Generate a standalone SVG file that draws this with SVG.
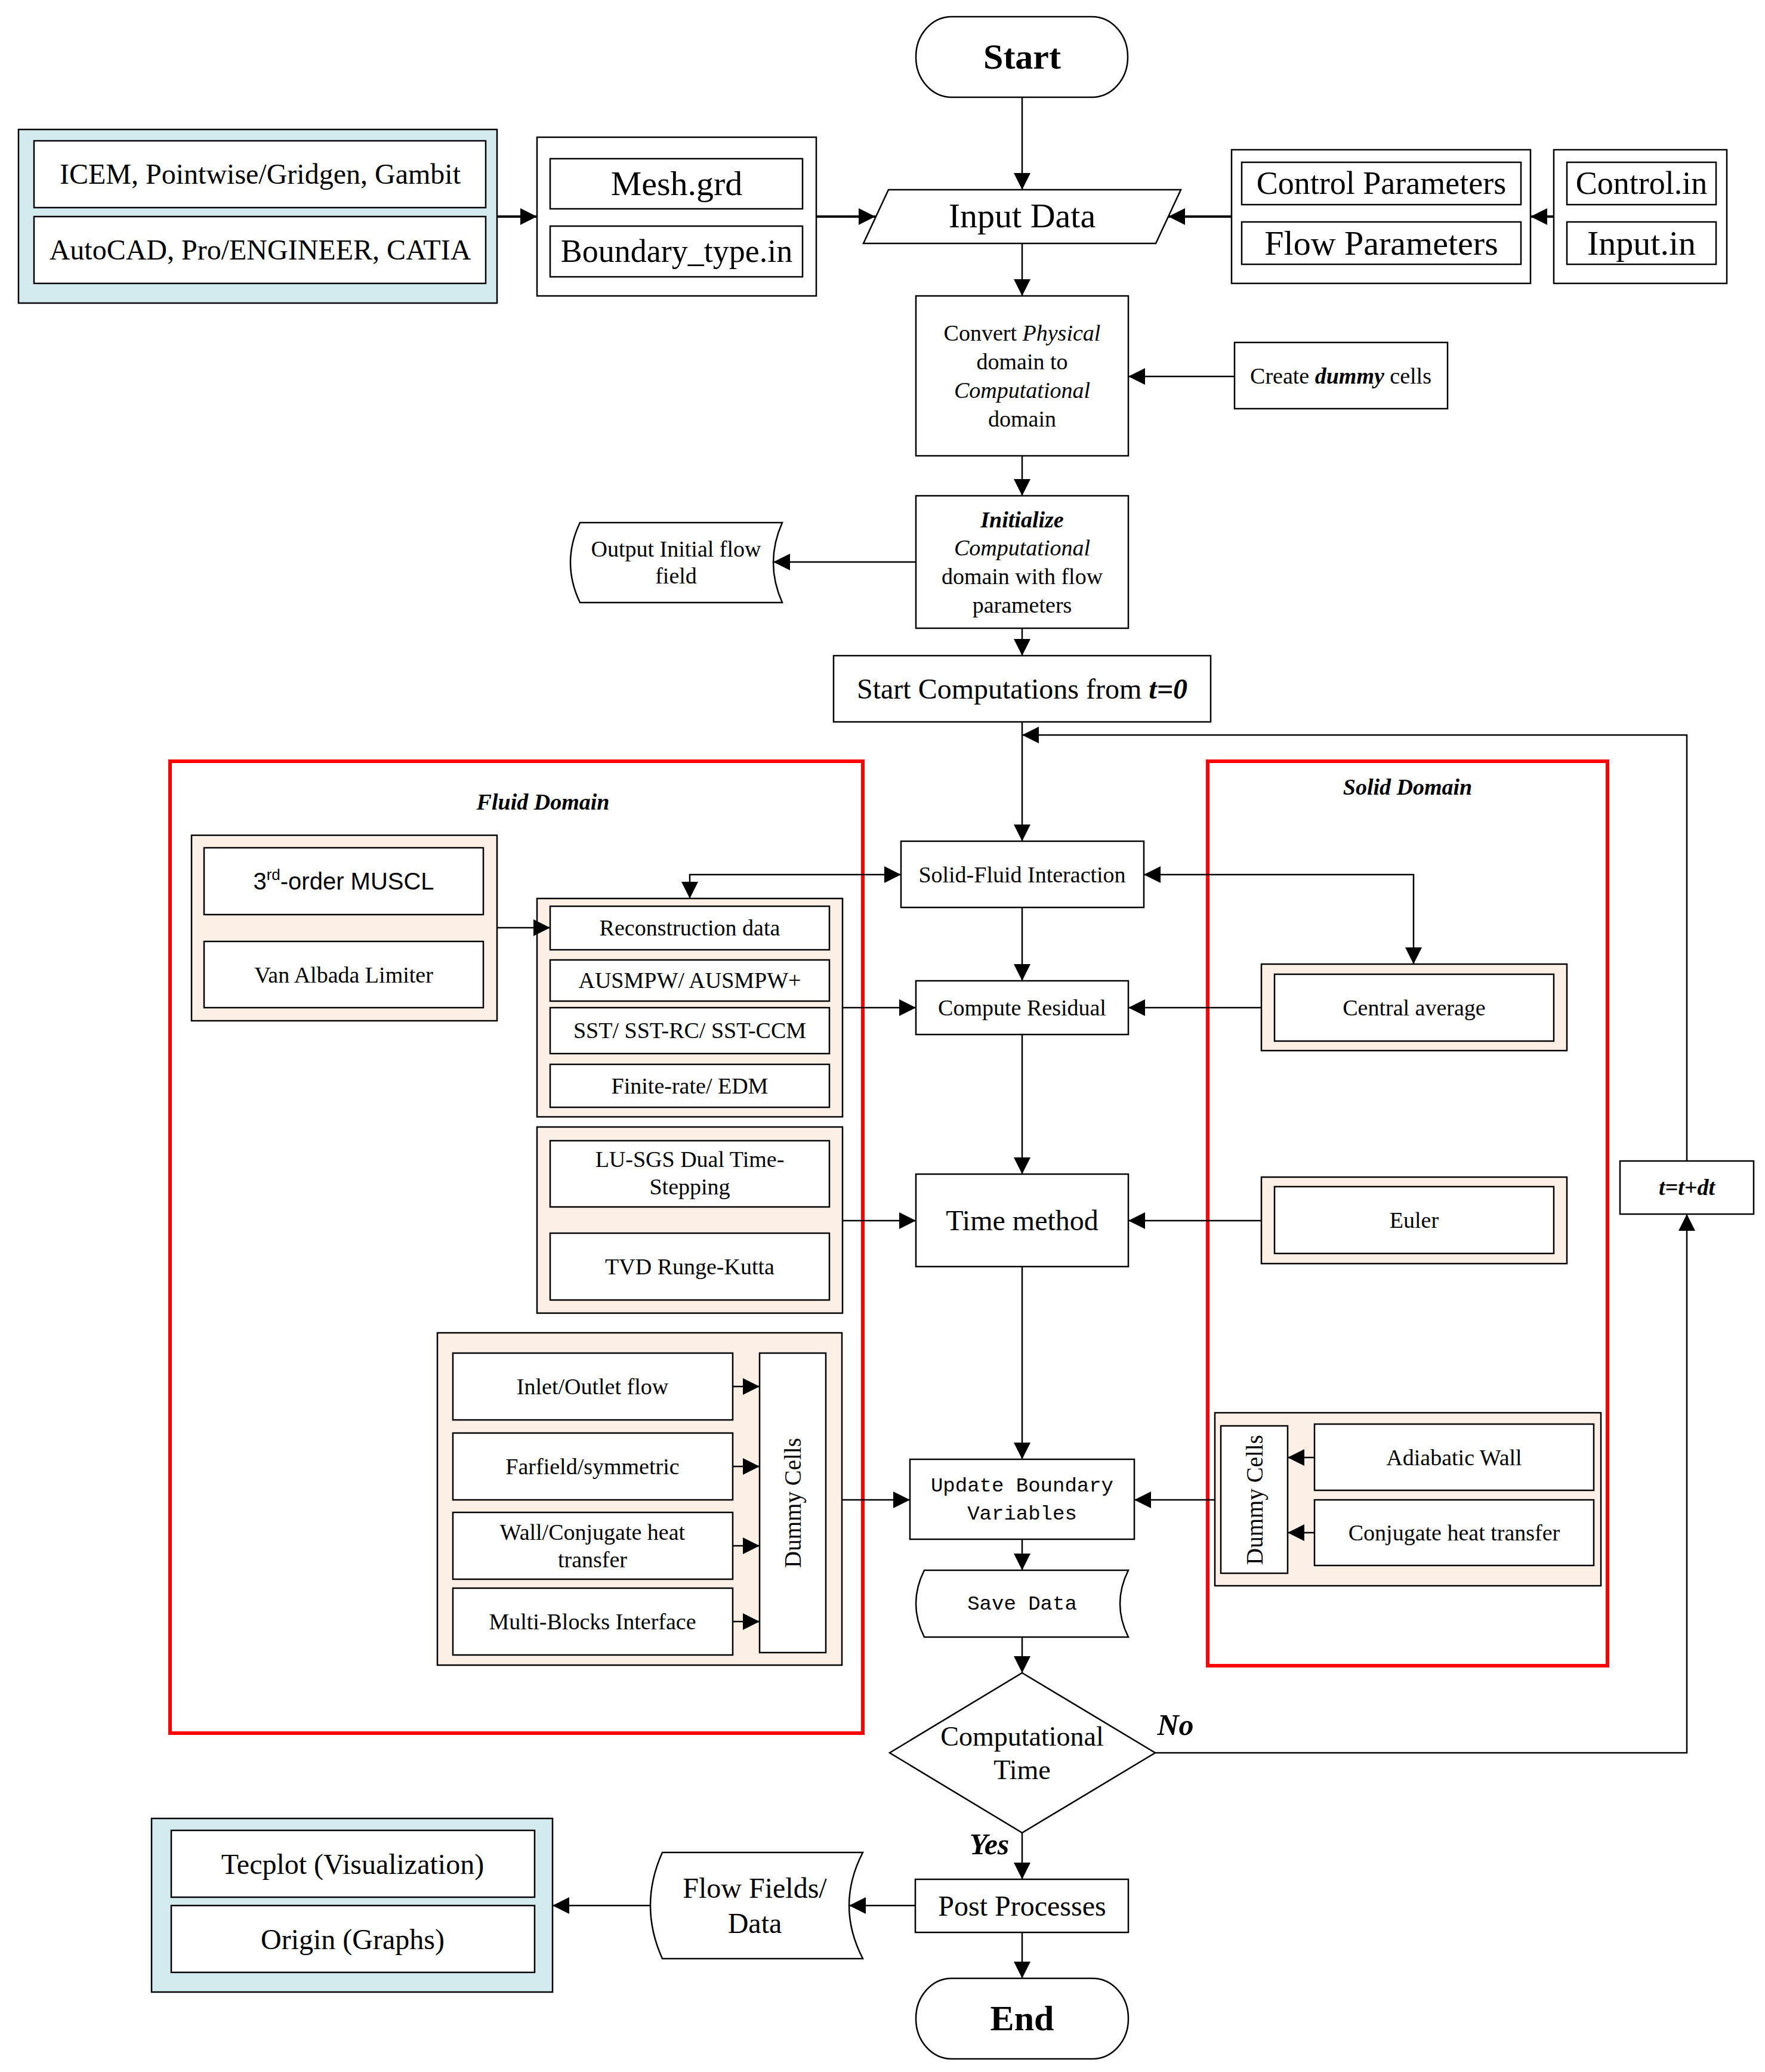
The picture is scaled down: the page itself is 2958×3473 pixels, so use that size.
<svg xmlns="http://www.w3.org/2000/svg" width="2958" height="3473" viewBox="0 0 2958 3473">
<defs>
<style>
.b{fill:#fff;stroke:#000;stroke-width:2.5}
.bl{fill:#D3EAEF;stroke:#000;stroke-width:2.5}
.pc{fill:#FCEFE5;stroke:#000;stroke-width:2.5}
.red{fill:none;stroke:#FF0000;stroke-width:6}
.t{font-family:"Liberation Serif","Times New Roman",serif;text-anchor:middle;fill:#000}
.m{font-family:"Liberation Mono","Courier New",monospace;text-anchor:middle;fill:#000}
.s{font-family:"Liberation Sans",Arial,sans-serif;text-anchor:middle;fill:#000}
.cn{fill:none;stroke:#000;stroke-width:2.5}
.ck{fill:none;stroke:#000;stroke-width:4}
.bi{font-weight:bold;font-style:italic}
.it{font-style:italic}
</style>
<marker id="ah" viewBox="0 0 28 28" refX="28" refY="14" markerWidth="28" markerHeight="28" orient="auto-start-reverse" markerUnits="userSpaceOnUse">
<path d="M0,0 L28,14 L0,28 Z" fill="#000"/>
</marker>
</defs>
<rect width="2958" height="3473" fill="#fff"/>

<g id="fluid-domain">
<rect class="red" x="285" y="1276" width="1161" height="1629"/>
<text class="t bi" x="910" y="1357" font-size="38">Fluid Domain</text>
</g>
<g id="solid-domain">
<rect class="red" x="2024" y="1276" width="670" height="1516"/>
<text class="t bi" x="2359" y="1332" font-size="38">Solid Domain</text>
</g>

<g id="start">
<rect class="b" x="1535" y="28" width="355" height="135" rx="60" ry="67"/>
<text class="t" x="1713" y="115" font-size="60" font-weight="bold">Start</text>
</g>
<g id="mesh-tools">
<rect class="bl" x="31" y="217" width="802" height="291"/>
<rect class="b" x="57" y="236" width="757" height="112"/>
<text class="t" x="436" y="308" font-size="48">ICEM, Pointwise/Gridgen, Gambit</text>
<rect class="b" x="57" y="363" width="757" height="112"/>
<text class="t" x="436" y="435" font-size="48">AutoCAD, Pro/ENGINEER, CATIA</text>
</g>
<g id="mesh-files">
<rect class="b" x="900" y="230" width="468" height="266"/>
<rect class="b" x="922" y="266" width="423" height="84"/>
<text class="t" x="1134" y="327" font-size="58">Mesh.grd</text>
<rect class="b" x="922" y="379" width="423" height="85"/>
<text class="t" x="1134" y="439" font-size="54">Boundary_type.in</text>
</g>
<g id="input-data">
<path class="b" d="M1489,318 L1979,318 L1937,408 L1447,408 Z"/>
<text class="t" x="1713" y="381" font-size="58">Input Data</text>
</g>
<g id="parameters">
<rect class="b" x="2064" y="251" width="501" height="224"/>
<rect class="b" x="2081" y="272" width="468" height="71"/>
<text class="t" x="2315" y="325" font-size="54">Control Parameters</text>
<rect class="b" x="2081" y="372" width="468" height="71"/>
<text class="t" x="2315" y="427" font-size="58">Flow Parameters</text>
</g>
<g id="param-files">
<rect class="b" x="2604" y="251" width="290" height="224"/>
<rect class="b" x="2626" y="272" width="250" height="71"/>
<text class="t" x="2751" y="325" font-size="54">Control.in</text>
<rect class="b" x="2626" y="372" width="250" height="71"/>
<text class="t" x="2751" y="427" font-size="58">Input.in</text>
</g>
<g id="convert">
<rect class="b" x="1535" y="496" width="356" height="268"/>
<text class="t" x="1713" y="571" font-size="38">Convert <tspan class="it">Physical</tspan></text>
<text class="t" x="1713" y="619" font-size="38">domain to</text>
<text class="t it" x="1713" y="667" font-size="38">Computational</text>
<text class="t" x="1713" y="715" font-size="38">domain</text>
</g>
<g id="create-dummy">
<rect class="b" x="2069" y="574" width="357" height="111"/>
<text class="t" x="2247" y="643" font-size="38">Create <tspan class="bi">dummy</tspan> cells</text>
</g>
<g id="initialize">
<rect class="b" x="1535" y="831" width="356" height="222"/>
<text class="t bi" x="1713" y="884" font-size="38">Initialize</text>
<text class="t it" x="1713" y="931" font-size="38">Computational</text>
<text class="t" x="1713" y="979" font-size="38">domain with flow</text>
<text class="t" x="1713" y="1027" font-size="38">parameters</text>
</g>
<g id="output-initial">
<path class="b" d="M972,876 L1311,876 Q1281,943 1311,1010 L972,1010 Q940,943 972,876 Z"/>
<text class="t" x="1133" y="933" font-size="38">Output Initial flow</text>
<text class="t" x="1133" y="978" font-size="38">field</text>
</g>
<g id="start-comp">
<rect class="b" x="1397" y="1099" width="632" height="111"/>
<text class="t" x="1713" y="1171" font-size="48">Start Computations from <tspan class="bi">t=0</tspan></text>
</g>
<g id="muscl">
<rect class="pc" x="321" y="1400" width="512" height="311"/>
<rect class="b" x="342" y="1421" width="468" height="112"/>
<text class="s" x="576" y="1491" font-size="40">3<tspan font-size="26" dy="-16">rd</tspan><tspan dy="16">-order MUSCL</tspan></text>
<rect class="b" x="342" y="1578" width="468" height="111"/>
<text class="t" x="576" y="1647" font-size="38">Van Albada Limiter</text>
</g>
<g id="reconstruction">
<rect class="pc" x="900" y="1506" width="512" height="366"/>
<rect class="b" x="922" y="1519" width="468" height="73"/>
<text class="t" x="1156" y="1568" font-size="38">Reconstruction data</text>
<rect class="b" x="922" y="1609" width="468" height="69"/>
<text class="t" x="1156" y="1656" font-size="38">AUSMPW/ AUSMPW+</text>
<rect class="b" x="922" y="1689" width="468" height="77"/>
<text class="t" x="1156" y="1740" font-size="38">SST/ SST-RC/ SST-CCM</text>
<rect class="b" x="922" y="1784" width="468" height="72"/>
<text class="t" x="1156" y="1833" font-size="38">Finite-rate/ EDM</text>
</g>
<g id="time-schemes">
<rect class="pc" x="900" y="1889" width="512" height="312"/>
<rect class="b" x="922" y="1912" width="468" height="111"/>
<text class="t" x="1156" y="1956" font-size="38">LU-SGS Dual Time-</text>
<text class="t" x="1156" y="2002" font-size="38">Stepping</text>
<rect class="b" x="922" y="2067" width="468" height="112"/>
<text class="t" x="1156" y="2136" font-size="38">TVD Runge-Kutta</text>
</g>
<g id="solid-fluid">
<rect class="b" x="1510" y="1410" width="407" height="111"/>
<text class="t" x="1713" y="1479" font-size="38">Solid-Fluid Interaction</text>
</g>
<g id="compute-residual">
<rect class="b" x="1535" y="1644" width="356" height="90"/>
<text class="t" x="1713" y="1702" font-size="38">Compute Residual</text>
</g>
<g id="central-average">
<rect class="pc" x="2114" y="1616" width="512" height="145"/>
<rect class="b" x="2136" y="1633" width="468" height="112"/>
<text class="t" x="2370" y="1702" font-size="38">Central average</text>
</g>
<g id="time-method">
<rect class="b" x="1535" y="1968" width="356" height="155"/>
<text class="t" x="1713" y="2062" font-size="48">Time method</text>
</g>
<g id="euler">
<rect class="pc" x="2114" y="1973" width="512" height="145"/>
<rect class="b" x="2136" y="1989" width="468" height="112"/>
<text class="t" x="2370" y="2058" font-size="38">Euler</text>
</g>
<g id="time-step">
<rect class="b" x="2715" y="1946" width="224" height="89"/>
<text class="t bi" x="2827" y="2003" font-size="38">t=t+dt</text>
</g>
<g id="fluid-boundaries">
<rect class="pc" x="733" y="2234" width="678" height="557"/>
<rect class="b" x="759" y="2268" width="469" height="112"/>
<text class="t" x="993" y="2337" font-size="38">Inlet/Outlet flow</text>
<rect class="b" x="759" y="2402" width="469" height="112"/>
<text class="t" x="993" y="2471" font-size="38">Farfield/symmetric</text>
<rect class="b" x="759" y="2535" width="469" height="112"/>
<text class="t" x="993" y="2581" font-size="38">Wall/Conjugate heat</text>
<text class="t" x="993" y="2627" font-size="38">transfer</text>
<rect class="b" x="759" y="2662" width="469" height="112"/>
<text class="t" x="993" y="2731" font-size="38">Multi-Blocks Interface</text>
<rect class="b" x="1273" y="2268" width="111" height="502"/>
<text class="t" x="0" y="0" font-size="39" transform="translate(1342,2519) rotate(-90)">Dummy Cells</text>
</g>
<g id="update-boundary">
<rect class="b" x="1525" y="2446" width="376" height="134"/>
<text class="m" x="1713" y="2500" font-size="34">Update Boundary</text>
<text class="m" x="1713" y="2547" font-size="34">Variables</text>
</g>
<g id="solid-boundaries">
<rect class="pc" x="2036" y="2368" width="647" height="290"/>
<rect class="b" x="2046" y="2390" width="112" height="247"/>
<text class="t" x="0" y="0" font-size="39" transform="translate(2116,2514) rotate(-90)">Dummy Cells</text>
<rect class="b" x="2203" y="2387" width="468" height="111"/>
<text class="t" x="2437" y="2456" font-size="38">Adiabatic Wall</text>
<rect class="b" x="2203" y="2514" width="468" height="110"/>
<text class="t" x="2437" y="2582" font-size="38">Conjugate heat transfer</text>
</g>
<g id="save-data">
<path class="b" d="M1549,2632 L1891,2632 Q1863,2688 1891,2744 L1549,2744 Q1521,2688 1549,2632 Z"/>
<text class="m" x="1713" y="2698" font-size="34">Save Data</text>
</g>
<g id="decision">
<path class="b" d="M1713,2804 L1936,2938 L1713,3072 L1491,2938 Z"/>
<text class="t" x="1713" y="2926" font-size="46">Computational</text>
<text class="t" x="1713" y="2982" font-size="46">Time</text>
</g>
<g id="labels">
<text class="t bi" x="1970" y="2908" font-size="50">No</text>
<text class="t bi" x="1658" y="3108" font-size="50">Yes</text>
</g>
<g id="post">
<rect class="b" x="1534" y="3150" width="357" height="89"/>
<text class="t" x="1713" y="3211" font-size="48">Post Processes</text>
</g>
<g id="flow-fields">
<path class="b" d="M1110,3105 L1446,3105 Q1400,3194 1446,3283 L1110,3283 Q1070,3194 1110,3105 Z"/>
<text class="t" x="1265" y="3181" font-size="48">Flow Fields/</text>
<text class="t" x="1265" y="3240" font-size="48">Data</text>
</g>
<g id="visualization">
<rect class="bl" x="254" y="3048" width="672" height="291"/>
<rect class="b" x="287" y="3068" width="609" height="112"/>
<text class="t" x="591" y="3141" font-size="48">Tecplot (Visualization)</text>
<rect class="b" x="287" y="3194" width="609" height="112"/>
<text class="t" x="591" y="3267" font-size="48">Origin (Graphs)</text>
</g>
<g id="end">
<rect class="b" x="1535" y="3316" width="356" height="135" rx="60" ry="67"/>
<text class="t" x="1713" y="3403" font-size="60" font-weight="bold">End</text>
</g>

<g id="connectors">
<path class="ck" d="M833,363 H900" marker-end="url(#ah)"/>
<path class="ck" d="M1368,363 H1467" marker-end="url(#ah)"/>
<path class="ck" d="M2064,363 H1958" marker-end="url(#ah)"/>
<path class="ck" d="M2604,363 H2565" marker-end="url(#ah)"/>
<path class="cn" d="M1713,163 V318" marker-end="url(#ah)"/>
<path class="cn" d="M1713,408 V496" marker-end="url(#ah)"/>
<path class="cn" d="M2069,631 H1891" marker-end="url(#ah)"/>
<path class="cn" d="M1713,764 V831" marker-end="url(#ah)"/>
<path class="cn" d="M1535,942 H1296" marker-end="url(#ah)"/>
<path class="cn" d="M1713,1053 V1099" marker-end="url(#ah)"/>
<path class="cn" d="M1713,1210 V1410" marker-end="url(#ah)"/>
<path class="cn" d="M2827,1946 V1232 H1713" marker-end="url(#ah)"/>
<path class="cn" d="M1156,1506 V1466 H1510" marker-start="url(#ah)" marker-end="url(#ah)"/>
<path class="cn" d="M1917,1466 H2369 V1616" marker-start="url(#ah)" marker-end="url(#ah)"/>
<path class="cn" d="M833,1555 H922" marker-end="url(#ah)"/>
<path class="cn" d="M1713,1521 V1644" marker-end="url(#ah)"/>
<path class="cn" d="M1412,1689 H1535" marker-end="url(#ah)"/>
<path class="cn" d="M2114,1689 H1891" marker-end="url(#ah)"/>
<path class="cn" d="M1713,1734 V1968" marker-end="url(#ah)"/>
<path class="cn" d="M1412,2046 H1535" marker-end="url(#ah)"/>
<path class="cn" d="M2114,2046 H1891" marker-end="url(#ah)"/>
<path class="cn" d="M1713,2123 V2446" marker-end="url(#ah)"/>
<path class="cn" d="M1228,2324 H1273" marker-end="url(#ah)"/>
<path class="cn" d="M1228,2458 H1273" marker-end="url(#ah)"/>
<path class="cn" d="M1228,2591 H1273" marker-end="url(#ah)"/>
<path class="cn" d="M1228,2718 H1273" marker-end="url(#ah)"/>
<path class="cn" d="M1411,2514 H1525" marker-end="url(#ah)"/>
<path class="cn" d="M2203,2443 H2158" marker-end="url(#ah)"/>
<path class="cn" d="M2203,2569 H2158" marker-end="url(#ah)"/>
<path class="cn" d="M2036,2514 H1901" marker-end="url(#ah)"/>
<path class="cn" d="M1713,2580 V2632" marker-end="url(#ah)"/>
<path class="cn" d="M1713,2744 V2804" marker-end="url(#ah)"/>
<path class="cn" d="M1936,2938 H2827 V2035" marker-end="url(#ah)"/>
<path class="cn" d="M1713,3072 V3150" marker-end="url(#ah)"/>
<path class="cn" d="M1534,3194 H1423" marker-end="url(#ah)"/>
<path class="cn" d="M1090,3194 H926" marker-end="url(#ah)"/>
<path class="cn" d="M1713,3239 V3316" marker-end="url(#ah)"/>
</g>
</svg>
